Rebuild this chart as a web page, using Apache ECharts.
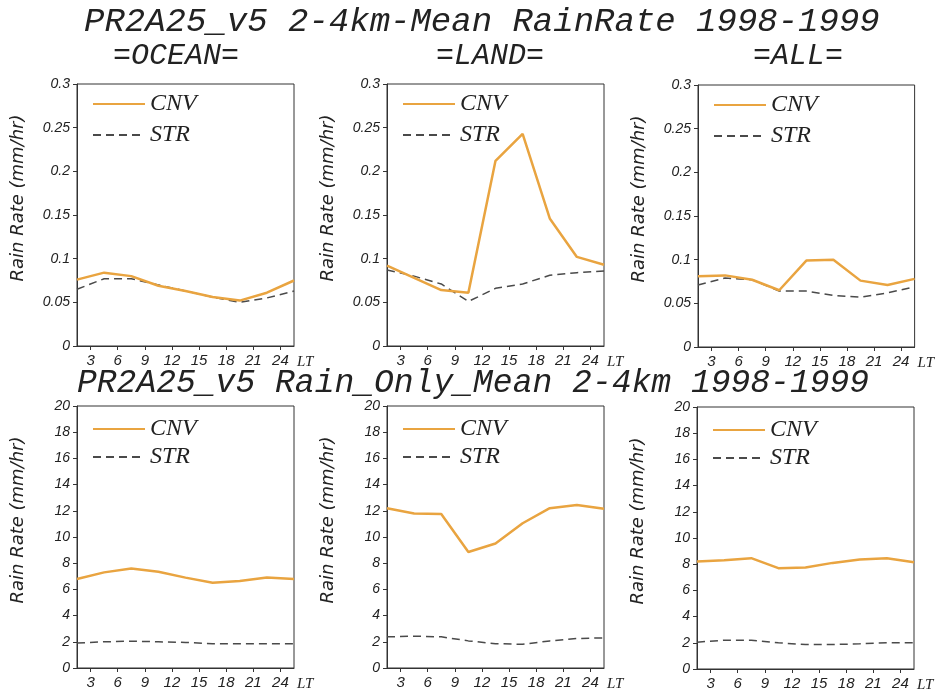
<!DOCTYPE html>
<html>
<head>
<meta charset="utf-8">
<script src="https://cdn.jsdelivr.net/npm/echarts@6/dist/echarts.min.js"></script>
<style>
html,body{margin:0;padding:0;background:#fff;}
#chart{width:935px;height:695px;}
</style>
</head>
<body>
<div id="chart"></div>
<script>
// Local time (hours) of each 3-hourly value; last point repeats the first (wrap-around)
const hours = [1.5, 4.5, 7.5, 10.5, 13.5, 16.5, 19.5, 22.5, 25.5];
const tickHours = [3, 6, 9, 12, 15, 18, 21, 24];

// Top row: 2-4km mean rain rate (mm/hr)
const oceanMeanCNV = [0.076, 0.084, 0.080, 0.069, 0.063, 0.056, 0.052, 0.061, 0.075];
const oceanMeanSTR = [0.065, 0.077, 0.077, 0.070, 0.063, 0.056, 0.050, 0.055, 0.063];
const landMeanCNV  = [0.092, 0.078, 0.064, 0.061, 0.212, 0.243, 0.146, 0.102, 0.093];
const landMeanSTR  = [0.087, 0.080, 0.071, 0.051, 0.066, 0.071, 0.081, 0.084, 0.086];
const allMeanCNV   = [0.081, 0.082, 0.077, 0.065, 0.099, 0.100, 0.076, 0.071, 0.078];
const allMeanSTR   = [0.071, 0.079, 0.077, 0.064, 0.064, 0.059, 0.057, 0.062, 0.069];

// Bottom row: rain-only mean 2-4km (mm/hr)
const oceanRainCNV = [6.8, 7.3, 7.6, 7.35, 6.9, 6.5, 6.65, 6.9, 6.8];
const oceanRainSTR = [1.9, 2.0, 2.05, 2.0, 1.95, 1.85, 1.85, 1.85, 1.85];
const landRainCNV  = [12.2, 11.8, 11.75, 8.85, 9.5, 11.05, 12.2, 12.45, 12.15];
const landRainSTR  = [2.38, 2.43, 2.38, 2.07, 1.86, 1.81, 2.07, 2.25, 2.3];
const allRainCNV   = [8.2, 8.3, 8.46, 7.7, 7.74, 8.1, 8.36, 8.46, 8.15];
const allRainSTR   = [2.05, 2.2, 2.2, 2.0, 1.87, 1.87, 1.92, 2.0, 2.0];

const mainTitle1 = 'PR2A25_v5 2-4km-Mean RainRate 1998-1999';
const mainTitle2 = 'PR2A25_v5 Rain_Only_Mean 2-4km 1998-1999';
const regionNames = ['=OCEAN=', '=LAND=', '=ALL='];
const yAxisName = 'Rain Rate (mm/hr)';

const panels = [
  {cnv: oceanMeanCNV, str: oceanMeanSTR, max: 0.3, interval: 0.05, left: 77,  top: 84},
  {cnv: landMeanCNV,  str: landMeanSTR,  max: 0.3, interval: 0.05, left: 387, top: 84},
  {cnv: allMeanCNV,   str: allMeanSTR,   max: 0.3, interval: 0.05, left: 698, top: 85},
  {cnv: oceanRainCNV, str: oceanRainSTR, max: 20,  interval: 2,    left: 77,  top: 406},
  {cnv: landRainCNV,  str: landRainSTR,  max: 20,  interval: 2,    left: 387, top: 406},
  {cnv: allRainCNV,   str: allRainSTR,   max: 20,  interval: 2,    left: 697, top: 407}
];

const CNV_COLOR = '#e9a440';
const STR_COLOR = '#4a4a4a';
const TXT = '#222222';

const grids = [], xAxes = [], yAxes = [], series = [], legends = [];
panels.forEach((p, i) => {
  grids.push({left: p.left, top: p.top, width: 217, height: 262, show: true,
    borderColor: '#333', borderWidth: 1, backgroundColor: 'transparent'});
  xAxes.push({
    type: 'value', gridIndex: i, min: 1.5, max: 25.5,
    name: 'LT', nameLocation: 'end', nameGap: 3,
    nameTextStyle: {fontFamily: 'Liberation Serif', fontStyle: 'italic', fontSize: 15, color: TXT,
      verticalAlign: 'top', padding: [9, 0, 0, 0]},
    axisLine: {show: true, onZero: false, lineStyle: {color: '#333', width: 1}},
    axisTick: {show: true, inside: false, length: 4, customValues: tickHours, lineStyle: {color: '#333'}},
    axisLabel: {show: true, customValues: tickHours, margin: 7,
      fontFamily: 'Liberation Sans', fontStyle: 'italic', fontSize: 15, color: TXT},
    splitLine: {show: false}
  });
  yAxes.push({
    type: 'value', gridIndex: i, min: 0, max: p.max, interval: p.interval,
    name: yAxisName, nameLocation: 'middle', nameGap: 50,
    nameTextStyle: {fontFamily: 'DejaVu Sans', fontStyle: 'italic', fontSize: 18, color: TXT,
      padding: [0, 0, 0, 34]},
    axisLine: {show: true, lineStyle: {color: '#333', width: 1}},
    axisTick: {show: true, inside: false, length: 4, lineStyle: {color: '#333'}},
    axisLabel: {show: true, margin: 7, fontFamily: 'Liberation Sans', fontStyle: 'italic', fontSize: 14, color: TXT},
    splitLine: {show: false}
  });
  series.push({
    name: 'CNV', type: 'line', xAxisIndex: i, yAxisIndex: i, symbol: 'none',
    data: hours.map((h, k) => [h, p.cnv[k]]),
    lineStyle: {color: CNV_COLOR, width: 2.5}, itemStyle: {color: CNV_COLOR}, z: 3
  });
  series.push({
    name: 'STR', type: 'line', xAxisIndex: i, yAxisIndex: i, symbol: 'none',
    data: hours.map((h, k) => [h, p.str[k]]),
    lineStyle: {color: STR_COLOR, width: 1.5, type: [8, 5]}, itemStyle: {color: STR_COLOR}, z: 2
  });
  const row = i < 3 ? 0 : 1;
  legends.push({
    data: ['CNV', 'STR'], orient: 'vertical', left: p.left + 15, top: p.top + 8 + (row ? 3 : 0),
    padding: 0, itemWidth: 52, itemHeight: 14, itemGap: row ? 4 : 7,
    itemStyle: {opacity: 0},
    textStyle: {fontFamily: 'Liberation Serif', fontStyle: 'italic', fontSize: 24, color: TXT, lineHeight: 24},
    selectedMode: false
  });
});

const titleFont = {fontFamily: 'Liberation Mono', fontStyle: 'italic', fontWeight: 'normal', color: TXT};
const titles = [
  {text: mainTitle1, left: 84, top: 5, padding: 0, textStyle: Object.assign({fontSize: 34}, titleFont)},
  {text: mainTitle2, left: 77, top: 367, padding: 0, textStyle: Object.assign({fontSize: 33}, titleFont)}
];
const subCenters = [176, 490, 798];
regionNames.forEach((t, k) => {
  titles.push({text: t, left: subCenters[k], top: 41, padding: 0, textAlign: 'center',
    textStyle: Object.assign({fontSize: 30}, titleFont)});
});

const chart = echarts.init(document.getElementById('chart'), null, {renderer: 'canvas'});
chart.setOption({
  animation: false,
  backgroundColor: '#ffffff',
  title: titles,
  legend: legends,
  grid: grids,
  xAxis: xAxes,
  yAxis: yAxes,
  series: series
});
</script>
</body>
</html>
